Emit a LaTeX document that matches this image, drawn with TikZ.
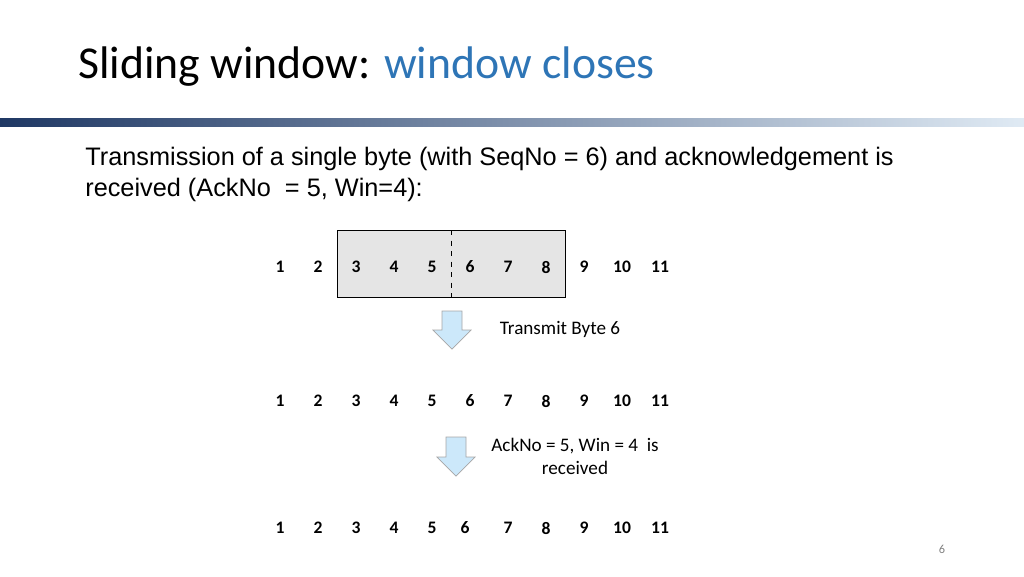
\documentclass[tikz,border=0pt]{standalone}
\usepackage{fontspec}
\setmainfont{Carlito}
\newfontfamily\bodyfont{Liberation Sans}
\usetikzlibrary{positioning}
\definecolor{titleblue}{RGB}{46,117,182}
\definecolor{navy}{RGB}{31,56,100}
\definecolor{arrowfill}{RGB}{204,232,250}
\tikzset{
    num/.style={font=\fontsize{10}{11}\selectfont\bfseries, inner sep=1pt},
    lbl/.style={font=\fontsize{10.9}{13}\selectfont, align=center},
    downarrow/.style={fill=arrowfill, draw=gray!70, thin}
}
\begin{document}
\begin{tikzpicture}[x=0.02cm, y=-0.02cm]
    \useasboundingbox (0,0) rectangle (1024,576);

    % Title and bar
    \node[anchor=west, inner sep=0, font=\fontsize{26}{30}\selectfont] (title) at (78,67)
        {Sliding window: \textcolor{titleblue}{window closes}};
    \shade[left color=navy, right color=titleblue!15] (0,118) rectangle (1024,126);

    % Body text
    \node[anchor=north west, inner sep=0, align=left, font=\bodyfont\fontsize{14.4}{17.5}\selectfont] (intro) at (85,147)
        {Transmission of a single byte (with SeqNo = 6) and acknowledgement is\\
         received (AckNo\ \ = 5, Win=4):};

    % Window box
    \draw[fill=gray!20] (337,230) rectangle (565,297);
    \draw[dashed] (451,230) -- (451,297);

    % Rows of byte numbers
    \foreach \i in {1,...,11} {
        \node[num] (a\i) at (242+38*\i,267) {\i};
        \node[num] (b\i) at (242+38*\i,401) {\i};
    }
    \foreach \i/\x in {1/280,2/318,3/356,4/394,5/432,6/465,7/508,8/546,9/584,10/622,11/660} {
        \node[num] (c\i) at (\x,528) {\i};
    }

    % Arrows
    \draw[downarrow] (442,311) -- (462,311) -- (462,330) -- (471,330) -- (452,349)
        -- (433,330) -- (442,330) -- cycle;
    \draw[downarrow] (446,437) -- (466,437) -- (466,457) -- (475,457) -- (456,476)
        -- (437,457) -- (446,457) -- cycle;

    \node[lbl] (send) at (560,329) {Transmit Byte 6};
    \node[lbl] (ack) at (575,456) {AckNo = 5, Win = 4\ \ is\\received};

    % Page number
    \node[font=\fontsize{7}{8}\selectfont, text=gray] (page) at (942,549) {6};
\end{tikzpicture}
\end{document}
